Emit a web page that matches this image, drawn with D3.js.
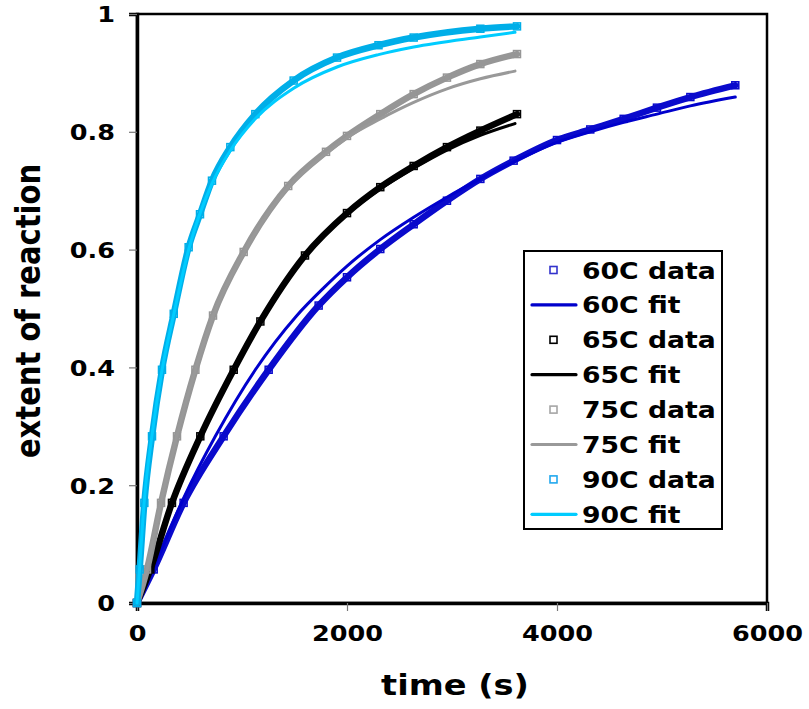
<!DOCTYPE html>
<html>
<head>
<meta charset="utf-8">
<script src="https://cdn.jsdelivr.net/npm/d3@7"></script>
<style>
  body { margin: 0; background: #fff; }
  text { font-family: "DejaVu Sans", Verdana, sans-serif; font-weight: bold; }
</style>
</head>
<body>
<svg id="chart" width="809" height="709"></svg>
<script>
// values
var time60Data = [0, 159, 444, 825, 1254, 1730, 2000, 2317, 2635, 2952, 3270, 3587, 4000, 4317, 4635, 4952, 5270, 5698];
var ext60Data  = [0, 0.057, 0.17, 0.283, 0.396, 0.505, 0.553, 0.601, 0.643, 0.683, 0.72, 0.751, 0.786, 0.804, 0.822, 0.841, 0.859, 0.879];
var time60Fit  = [0, 159, 444, 746, 1127, 1517, 1778, 2000, 2317, 2635, 2952, 3270, 3587, 4000, 4317, 4635, 4952, 5270, 5698];
var ext60Fit   = [0, 0.06, 0.178, 0.283, 0.396, 0.487, 0.535, 0.572, 0.617, 0.655, 0.689, 0.72, 0.749, 0.782, 0.8, 0.816, 0.83, 0.844, 0.859];

var time65Data = [0, 127, 333, 603, 921, 1175, 1600, 2000, 2317, 2635, 2952, 3270, 3619];
var ext65Data  = [0, 0.057, 0.17, 0.283, 0.396, 0.478, 0.59, 0.662, 0.706, 0.742, 0.774, 0.802, 0.83];
var time65Fit  = [0, 127, 333, 603, 921, 1175, 1600, 2000, 2317, 2635, 2952, 3270, 3600];
var ext65Fit   = [0, 0.058, 0.172, 0.285, 0.397, 0.477, 0.588, 0.66, 0.703, 0.738, 0.769, 0.794, 0.814];

var time75Data = [0, 95, 229, 381, 556, 724, 1016, 1440, 1800, 2000, 2317, 2635, 2952, 3270, 3619];
var ext75Data  = [0, 0.057, 0.17, 0.283, 0.396, 0.488, 0.596, 0.708, 0.766, 0.793, 0.83, 0.864, 0.892, 0.915, 0.932];
var time75Fit  = [0, 95, 229, 381, 556, 724, 1016, 1440, 1800, 2000, 2317, 2635, 2952, 3270, 3600];
var ext75Fit   = [0, 0.058, 0.172, 0.285, 0.396, 0.487, 0.594, 0.706, 0.763, 0.79, 0.822, 0.85, 0.873, 0.89, 0.903];

var time90Data = [0, 25, 70, 143, 238, 350, 492, 600, 714, 889, 1127, 1492, 1905, 2300, 2635, 3270, 3619];
var ext90Data  = [0, 0.057, 0.17, 0.283, 0.396, 0.491, 0.604, 0.66, 0.717, 0.774, 0.83, 0.887, 0.926, 0.947, 0.96, 0.975, 0.979];
var time90Fit  = [0, 25, 70, 143, 238, 350, 492, 714, 889, 1127, 1492, 1905, 2300, 2635, 3270, 3600];
var ext90Fit   = [0, 0.06, 0.175, 0.285, 0.395, 0.49, 0.6, 0.712, 0.768, 0.822, 0.874, 0.91, 0.931, 0.944, 0.961, 0.969];

var xTicks = [0, 2000, 4000, 6000];
var yTicks = [0, 0.2, 0.4, 0.6, 0.8, 1];
var legendLabels = ["60C data", "60C fit", "65C data", "65C fit", "75C data", "75C fit", "90C data", "90C fit"];

var series = [
  {t: time60Data, v: ext60Data, fitT: time60Fit, fitV: ext60Fit, dataColor: "#0A0ACC", fitColor: "#0000CC", legColor: "#3333CC"},
  {t: time65Data, v: ext65Data, fitT: time65Fit, fitV: ext65Fit, dataColor: "#000000", fitColor: "#000000", legColor: "#000000"},
  {t: time75Data, v: ext75Data, fitT: time75Fit, fitV: ext75Fit, dataColor: "#969696", fitColor: "#999999", legColor: "#A6A6A6"},
  {t: time90Data, v: ext90Data, fitT: time90Fit, fitV: ext90Fit, dataColor: "#00AEE8", fitColor: "#00CCFF", legColor: "#22A8EE"}
];

var svg = d3.select("#chart");
var margin = {left: 137, top: 14};
var w = 630, h = 589;
var stretch = 1.16;   // the reference text is a bit wide

var x = d3.scaleLinear().domain([0, 6000]).range([0, w]);
var y = d3.scaleLinear().domain([0, 1]).range([h, 0]);

var g = svg.append("g").attr("transform", "translate(" + margin.left + "," + margin.top + ")");

// plot area frame
g.append("rect").attr("width", w).attr("height", h)
  .attr("fill", "none").attr("stroke", "#000").attr("stroke-width", 2.5);

var xAxis = g.append("g").attr("transform", "translate(0," + h + ")")
  .call(d3.axisBottom(x).tickValues(xTicks).tickSize(8).tickPadding(14).tickFormat(d3.format("d")));
var yAxis = g.append("g")
  .call(d3.axisLeft(y).tickValues(yTicks).tickSize(8).tickPadding(14)
    .tickFormat(function(d) { return (d === 0 || d === 1) ? d : d3.format(".1f")(d); }));

[xAxis, yAxis].forEach(function(ax) {
  ax.select(".domain").attr("stroke", "#000").attr("stroke-width", 3.5);
  ax.selectAll(".tick line").attr("stroke", "#777").attr("stroke-width", 1.2);
  ax.selectAll(".tick text").attr("font-size", 22).attr("fill", "#000")
    .style("font-family", "DejaVu Sans").style("font-weight", "bold");
});
xAxis.selectAll(".tick text").attr("dy", "0.75em");
yAxis.selectAll(".tick text").attr("dy", "0.36em")
  .attr("transform", function() { var xx = +d3.select(this).attr("x"); return "translate(" + xx + ",0) scale(" + stretch + ",1) translate(" + (-xx) + ",0)"; });
xAxis.selectAll(".tick text")
  .attr("transform", "scale(" + stretch + ",1)");

// series
var lineGen = d3.line().curve(d3.curveMonotoneX).x(function(d) { return x(d[0]); }).y(function(d) { return y(d[1]); });

series.forEach(function(s) {
  var pts = s.t.map(function(t, i) { return [t, s.v[i]]; });
  var fitPts = s.fitT.map(function(t, i) { return [t, s.fitV[i]]; });

  // data: dense square markers merge into a band
  g.append("path").datum(pts).attr("d", lineGen)
    .attr("fill", "none").attr("stroke", s.dataColor).attr("stroke-width", 6.5)
    .attr("stroke-linecap", "round");
  g.selectAll(null).data(pts).enter().append("rect")
    .attr("x", function(d) { return x(d[0]) - 3.5; })
    .attr("y", function(d) { return y(d[1]) - 3.5; })
    .attr("width", 7).attr("height", 7)
    .attr("fill", "none").attr("stroke", s.dataColor).attr("stroke-width", 1.5);

  g.append("path").datum(fitPts).attr("d", lineGen)
    .attr("fill", "none").attr("stroke", s.fitColor).attr("stroke-width", 3)
    .attr("stroke-linecap", "round");
});

// axis titles
svg.append("text")
  .attr("transform", "translate(455,695) scale(" + stretch + ",1)")
  .attr("text-anchor", "middle").attr("font-size", 29).text("time (s)");
svg.append("text")
  .attr("transform", "translate(40,311) scale(" + stretch + ",1) rotate(-90)")
  .attr("text-anchor", "middle").attr("font-size", 29).text("extent of reaction");

// legend
var leg = svg.append("g");
leg.append("rect").attr("x", 524).attr("y", 251).attr("width", 198).attr("height", 278)
  .attr("fill", "#fff").attr("stroke", "#000").attr("stroke-width", 2);

legendLabels.forEach(function(lab, i) {
  var s = series[Math.floor(i / 2)];
  var ly = 270 + i * 34.9;
  if (i % 2 === 0) {
    leg.append("rect").attr("x", 550).attr("y", ly - 3.5).attr("width", 7).attr("height", 7)
      .attr("fill", "#fff").attr("stroke", s.legColor).attr("stroke-width", 1.6);
  } else {
    leg.append("line").attr("x1", 532).attr("x2", 576).attr("y1", ly).attr("y2", ly)
      .attr("stroke", s.fitColor).attr("stroke-width", 3.2).attr("stroke-linecap", "round");
  }
  leg.append("text")
    .attr("transform", "translate(582," + (ly + 8.5) + ") scale(" + stretch + ",1)")
    .attr("font-size", 23).text(lab);
});
</script>
</body>
</html>
